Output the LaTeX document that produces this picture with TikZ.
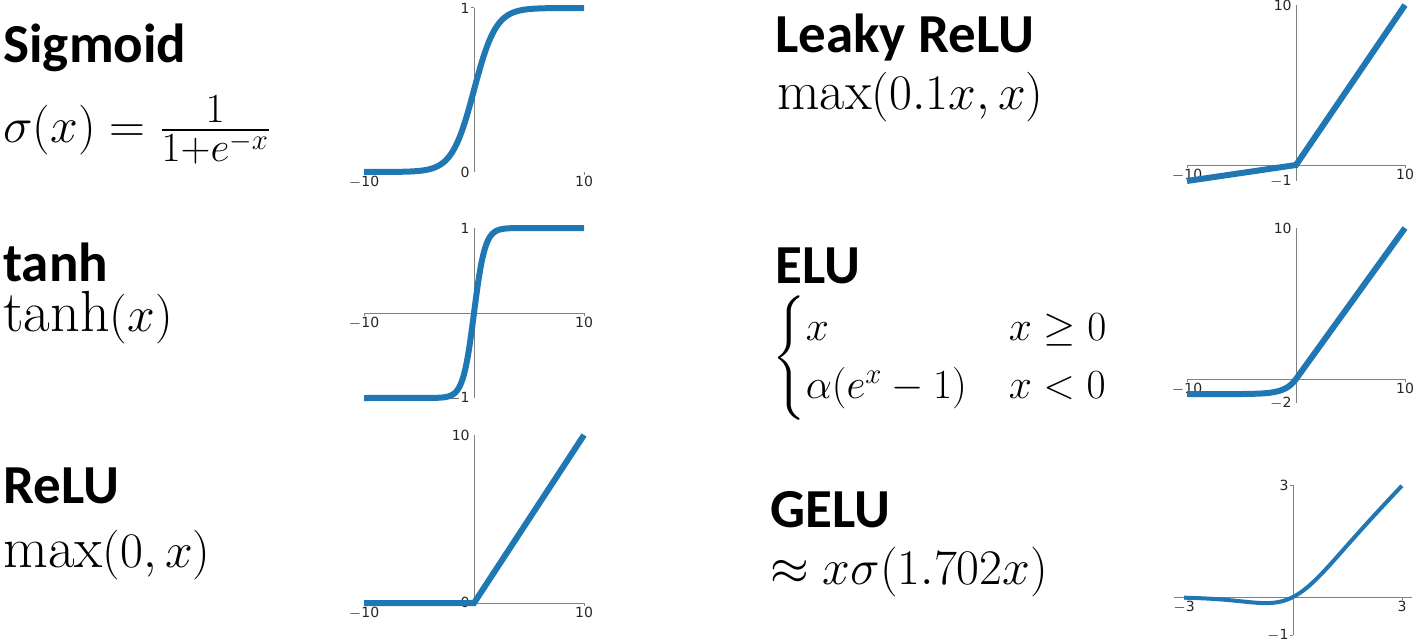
\documentclass[tikz,border=0pt]{standalone}
\usepackage{fontspec}
\usepackage{amsmath}
\newfontfamily\titlefont{Carlito}
\newfontfamily\tickfont{DejaVu Sans}
\definecolor{mplblue}{HTML}{1F77B4}
\begin{document}
\begin{tikzpicture}[x=0.5pt,y=-0.5pt,
  ttl/.style={anchor=west,inner sep=0pt,font=\titlefont\bfseries\fontsize{27.5}{30}\selectfont},
  frm/.style={anchor=west,inner sep=0pt,font=\fontsize{29}{32}\selectfont},
  tick/.style={inner sep=0.5pt,font=\tickfont\fontsize{7}{8}\selectfont,text=black!85},
  ax/.style={draw=gray,line width=0.5pt},
  crv/.style={draw=mplblue,line width=3pt},
  crvt/.style={draw=mplblue,line width=2pt}]
\useasboundingbox (0,0) rectangle (1417,642);
% titles and formulas
\node[ttl] (t1) at (3,48) {Sigmoid};
\node[frm,font=\fontsize{27.5}{32}\selectfont] (f1) at (3,130) {$\sigma(x)=\frac{1}{1+e^{-x}}$};
\node[ttl] (t2) at (3,262) {tanh};
\node[frm] (f2) at (3,318) {$\tanh(x)$};
\node[ttl] (t3) at (3,486) {ReLU};
\node[frm] (f3) at (3,555) {$\max(0,x)$};
\node[ttl] (t4) at (775,38) {Leaky ReLU};
\node[frm,font=\fontsize{27.5}{32}\selectfont] (f4) at (777,97) {$\max(0.1x,x)$};
\node[ttl] (t5) at (775,266) {ELU};
\node[frm,font=\fontsize{21}{24}\selectfont] (f5) at (772,358) {$\begin{cases}x & x\ge 0\\ \alpha(e^{x}-1) & x<0\end{cases}$};
\node[ttl] (t6) at (770,510) {GELU};
\node[frm,font=\fontsize{26}{30}\selectfont] (f6) at (770,572) {$\approx x\sigma(1.702x)$};
% Sigmoid plot
\draw[ax] (474,8) -- (474,172);
\draw[ax] (364,172) -- (364,175) (584,172) -- (584,175) (474,8) -- (471,8);
\node[tick,anchor=east] (s1) at (471,8) {1};
\node[tick,anchor=east] (s0) at (471,172) {0};
\node[tick,anchor=north] (sa) at (364,175) {$-$10};
\node[tick,anchor=north] (sb) at (584,175) {10};
\draw[crv] (364,172) -- plot[domain=-8:8,samples=100,smooth] ({474+11*\x},{172-164/(1+exp(-\x))}) -- (584,8);
% tanh plot
\draw[ax] (474,228) -- (474,398);
\draw[ax] (364,313) -- (584,313);
\draw[ax] (364,313) -- (364,316) (584,313) -- (584,316);
\node[tick,anchor=east] (h1) at (471,228) {1};
\node[tick,anchor=east] (h2) at (471,398) {$-$1};
\node[tick,anchor=north] (ha) at (364,316) {$-$10};
\node[tick,anchor=north] (hb) at (584,316) {10};
\draw[crv] (364,398) -- plot[domain=-4:4,samples=80,smooth] ({474+11*\x},{313-85*(1-2/(1+exp(2*\x)))}) -- (584,228);
% ReLU plot
\draw[ax] (474,435) -- (474,603);
\draw[ax] (364,603) -- (584,603);
\draw[ax] (364,603) -- (364,606) (584,603) -- (584,606);
\node[tick,anchor=east] (r1) at (471,435) {10};
\node[tick,anchor=east] (r0) at (471,602) {0};
\node[tick,anchor=north] (ra) at (364,606) {$-$10};
\node[tick,anchor=north] (rb) at (584,606) {10};
\draw[crv] (364,603) -- (474,603) -- (584,435);
% Leaky ReLU plot
\draw[ax] (1296,5) -- (1296,181);
\draw[ax] (1187,165) -- (1405,165);
\draw[ax] (1187,165) -- (1187,168) (1405,165) -- (1405,168);
\node[tick,anchor=east] (l1) at (1293,5) {10};
\node[tick,anchor=east] (l2) at (1293,181) {$-$1};
\node[tick,anchor=north] (la) at (1187,168) {$-$10};
\node[tick,anchor=north] (lb) at (1405,168) {10};
\draw[crv] (1187,181) -- (1296,165) -- (1405,5);
% ELU plot
\draw[ax] (1296,228) -- (1296,403);
\draw[ax] (1187,379) -- (1405,379);
\draw[ax] (1187,379) -- (1187,382) (1405,379) -- (1405,382);
\node[tick,anchor=east] (e1) at (1293,228) {10};
\node[tick,anchor=east] (e2) at (1293,403) {$-$2};
\node[tick,anchor=north] (ea) at (1187,382) {$-$10};
\node[tick,anchor=north] (eb) at (1405,382) {10};
\draw[crv] plot[domain=-10:0,samples=80,smooth] ({1296+10.9*\x},{379-15.1*(exp(\x)-1)}) -- (1405,228);
% GELU plot
\draw[ax] (1293,485) -- (1293,635);
\draw[ax] (1174,597) -- (1412,597);
\draw[ax] (1184,597) -- (1184,600) (1402,597) -- (1402,600) (1293,485) -- (1290,485) (1293,635) -- (1290,635);
\node[tick,anchor=east] (g1) at (1290,485) {3};
\node[tick,anchor=east] (g2) at (1290,635) {$-$1};
\node[tick,anchor=north] (ga) at (1184,600) {$-$3};
\node[tick,anchor=north] (gb) at (1402,600) {3};
\draw[crvt] plot[domain=-3:3,samples=100,smooth] ({1293+36.3*\x},{597-37.3*\x/(1+exp(-1.702*\x))});
\end{tikzpicture}
\end{document}
